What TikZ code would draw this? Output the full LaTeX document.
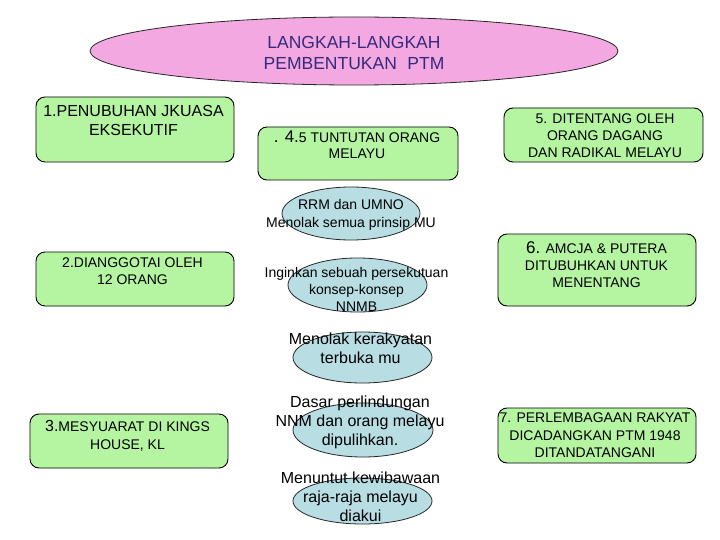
\documentclass[tikz,border=0pt]{standalone}
\usepackage{fontspec}
\setmainfont{Liberation Sans}
\usetikzlibrary{shapes.geometric}
\definecolor{pinkfill}{RGB}{243,168,226}
\definecolor{greenfill}{RGB}{181,245,162}
\definecolor{bluefill}{RGB}{184,222,228}
\definecolor{titlecol}{RGB}{52,42,122}
\begin{document}
\begin{tikzpicture}[x=1pt,y=-1pt,
  gbox/.style={draw=black, line width=0.9pt, fill=greenfill, rounded corners=9pt, inner sep=0pt},
  bell/.style={ellipse, draw=black!85, line width=0.8pt, fill=bluefill, inner sep=0pt},
  pell/.style={ellipse, draw=black!85, line width=0.8pt, fill=pinkfill, inner sep=0pt},
  txt/.style={align=center, inner sep=0pt, font=\fontsize{14}{17}\selectfont},
  bigtxt/.style={align=center, inner sep=0pt, font=\fontsize{16}{19}\selectfont},
]
\useasboundingbox (0,0) rectangle (720,540);
\fill[white] (0,0) rectangle (720,540);

% title
\node[pell, minimum width=528pt, minimum height=68pt] (title) at (354,51) {};
\node[align=center, inner sep=0pt, text=titlecol, font=\fontsize{17.5}{21}\selectfont] (titlet) at (354,52.5)
  {LANGKAH-LANGKAH\\PEMBENTUKAN\hspace{0.6em}PTM};

% green boxes
\node[gbox, minimum width=198pt, minimum height=65pt] (b1) at (135,129.5) {};
\node[txt, font=\fontsize{16}{19.5}\selectfont] (b1t) at (133.5,120.5) {1.PENUBUHAN JKUASA\\EKSEKUTIF};

\node[gbox, minimum width=200pt, minimum height=53pt] (b4) at (358,153.5) {};
\node[txt, font=\fontsize{14}{16}\selectfont] (b4t) at (357,145) {{\fontsize{17}{16}\selectfont . 4.}5 TUNTUTAN ORANG\\MELAYU};

\node[gbox, minimum width=199pt, minimum height=54pt] (b5) at (603.5,135) {};
\node[txt] (b5t) at (605,135.5) {5. DITENTANG OLEH\\ORANG DAGANG\\DAN RADIKAL MELAYU};

\node[gbox, minimum width=198pt, minimum height=54pt] (b2) at (135,279) {};
\node[txt, font=\fontsize{14}{16.5}\selectfont] (b2t) at (132.5,271) {2.DIANGGOTAI OLEH\\12 ORANG};

\node[gbox, minimum width=198pt, minimum height=72pt] (b6) at (597,270) {};
\node[txt, font=\fontsize{14}{17}\selectfont] (b6t) at (596.5,264.5) {{\fontsize{17}{17}\selectfont 6.} AMCJA \& PUTERA\\DITUBUHKAN UNTUK\\MENENTANG};

\node[gbox, minimum width=198pt, minimum height=54pt] (b3) at (129,441) {};
\node[txt, font=\fontsize{14}{18}\selectfont] (b3t) at (127.5,436) {{\fontsize{16}{18}\selectfont 3.}MESYUARAT DI KINGS\\HOUSE, KL};

\node[gbox, minimum width=198pt, minimum height=55pt] (b7) at (597,435.5) {};
\node[txt, font=\fontsize{14}{17.5}\selectfont] (b7t) at (595,435.5) {7. PERLEMBAGAAN RAKYAT\\DICADANGKAN PTM 1948\\DITANDATANGANI};

% blue ellipses
\node[bell, minimum width=138pt, minimum height=53pt] (e1) at (351,213.5) {};
\node[txt, font=\fontsize{14}{18}\selectfont] (e1t) at (351,214.5) {RRM dan UMNO\\Menolak semua prinsip MU};

\node[bell, minimum width=139pt, minimum height=54pt] (e2) at (357.5,285) {};
\node[txt, font=\fontsize{14}{17}\selectfont] (e2t) at (356.5,289) {Inginkan sebuah persekutuan\\konsep-konsep\\NNMB};

\node[bell, minimum width=139pt, minimum height=51pt] (e3) at (362.5,357.5) {};
\node[bigtxt] (e3t) at (360.5,348.5) {Menolak kerakyatan\\terbuka mu};

\node[bell, minimum width=140pt, minimum height=54pt] (e4) at (363,430) {};
\node[bigtxt] (e4t) at (360,422) {Dasar perlindungan\\NNM dan orang melayu\\dipulihkan.};

\node[bell, minimum width=139pt, minimum height=46pt] (e5) at (362.5,501) {};
\node[bigtxt] (e5t) at (360.5,497) {Menuntut kewibawaan\\raja-raja melayu\\diakui};
\end{tikzpicture}
\end{document}
